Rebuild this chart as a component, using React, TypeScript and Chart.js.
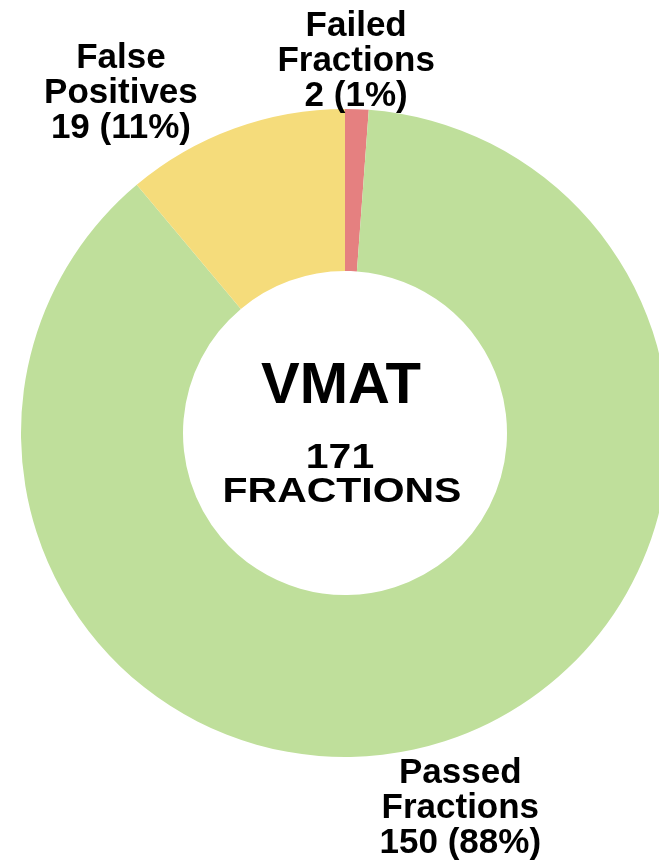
import React, { useEffect, useRef } from "react";
import { Chart, registerables } from "chart.js";

Chart.register(...registerables);

const categories = ["Failed Fractions", "Passed Fractions", "False Positives"];
const labelLines = [["Failed", "Fractions"], ["Passed", "Fractions"], ["False", "Positives"]];
const values = [2, 150, 19];
const colors = ["#E58080", "#BFDF9B", "#F5DC7B"];
const centerTitle = "VMAT";
const centerUnit = "FRACTIONS";

// label placement: radial factor (x outer radius) and angular shift (deg)
const labelRadius = [1.157, 1.204, 1.263];
const labelShift = [-0.4, 0.7, -13.2];

const FONT = '"Liberation Sans", Arial, sans-serif';

const labelPlugin = {
  id: "outerLabels",
  afterDraw(chart: any) {
    const ctx = chart.ctx;
    const meta = chart.getDatasetMeta(0);
    const total = values.reduce((a, b) => a + b, 0);
    ctx.save();
    ctx.fillStyle = "#000";
    ctx.textAlign = "center";
    ctx.textBaseline = "alphabetic";
    meta.data.forEach((arc: any, i: number) => {
      const p = arc.getProps(["x", "y", "startAngle", "endAngle", "outerRadius"], true);
      const mid = (p.startAngle + p.endAngle) / 2 + (labelShift[i] * Math.PI) / 180;
      const r = p.outerRadius * labelRadius[i];
      const cx = p.x + Math.cos(mid) * r;
      const cy = p.y + Math.sin(mid) * r;
      const pct = Math.round((values[i] / total) * 100);
      const lines = [...labelLines[i], `${values[i]} (${pct}%)`];
      ctx.font = `bold 35px ${FONT}`;
      const lh = 35;
      const baseMid = cy + 12.5;
      lines.forEach((t, j) => {
        ctx.fillText(t, cx, baseMid + (j - 1) * lh);
      });
    });
    // center text
    const arc0 = meta.data[0];
    const cx = arc0.x - 4;
    const cy = arc0.y;
    ctx.font = `bold 58px ${FONT}`;
    ctx.fillText(centerTitle, cx, cy - 30);
    ctx.font = `bold 35px ${FONT}`;
    const sx = 1.17;
    ctx.save();
    ctx.translate(cx, cy);
    ctx.scale(sx, 1);
    ctx.fillText(String(total), (-1) / sx, 35);
    ctx.fillText(centerUnit, 1 / sx, 69);
    ctx.restore();
    ctx.restore();
  },
};

export default function App() {
  const ref = useRef<HTMLCanvasElement | null>(null);
  useEffect(() => {
    if (!ref.current) return;
    const chart = new Chart(ref.current, {
      type: "doughnut",
      data: {
        labels: categories,
        datasets: [
          {
            data: values,
            backgroundColor: colors,
            borderWidth: 0,
          },
        ],
      },
      options: {
        responsive: false,
        animation: false,
        cutout: "50%",
        layout: { padding: { left: 21, right: 21, top: 109, bottom: 108 } },
        plugins: {
          legend: { display: false },
          tooltip: { enabled: false },
        },
      },
      plugins: [labelPlugin],
    });
    return () => chart.destroy();
  }, []);
  return (
    <div
      style={{
        position: "fixed",
        left: 0,
        top: 0,
        width: 659,
        height: 865,
        overflow: "hidden",
        background: "#fff",
      }}
    >
      <canvas
        ref={ref}
        width={690}
        height={865}
        style={{ position: "absolute", left: 0, top: 0, width: 690, height: 865 }}
      />
    </div>
  );
}
